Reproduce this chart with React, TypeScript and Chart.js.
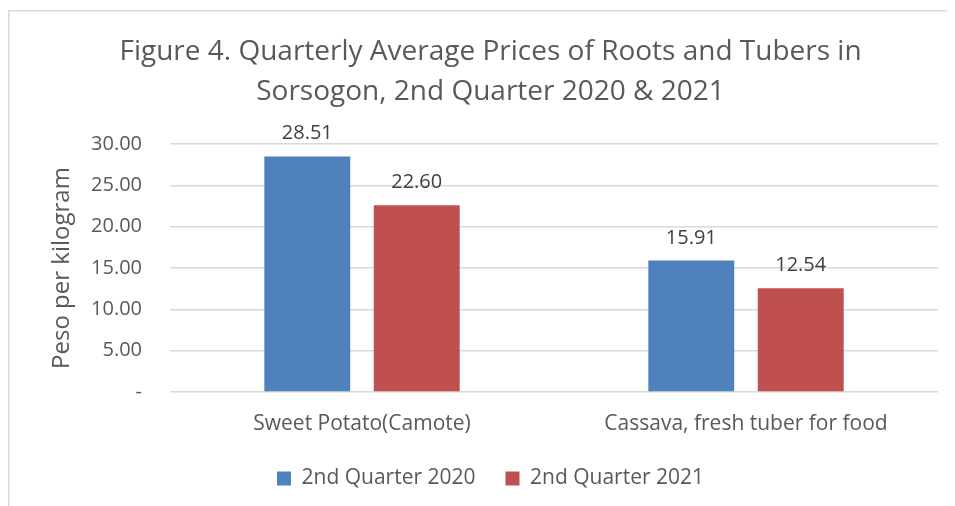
import React, { useEffect, useRef } from "react";
import { Chart, registerables } from "chart.js";

Chart.register(...registerables);

const categories = ["Sweet Potato(Camote)", "Cassava, fresh tuber for food"];
const series2020 = [28.51, 15.91];
const series2021 = [22.6, 12.54];
const seriesNames = ["2nd Quarter 2020", "2nd Quarter 2021"];
const titleLines = [
  "Figure 4. Quarterly Average Prices of Roots and Tubers in",
  "Sorsogon, 2nd Quarter 2020 & 2021",
];
const yAxisTitle = "Peso per kilogram";

const FONT = "'Open Sans', 'Noto Sans', sans-serif";
const TEXT = "#595959";

const frameAndLabels = {
  id: "frameAndLabels",
  beforeDraw(chart: any) {
    const ctx = chart.ctx;
    ctx.save();
    ctx.fillStyle = "#ffffff";
    ctx.fillRect(0, 0, chart.width, chart.height);
    ctx.strokeStyle = "#d9d9d9";
    ctx.lineWidth = 1.5;
    ctx.strokeRect(0.75, 2.75, chart.width + 20, chart.height + 20);
    ctx.restore();
  },
  afterDatasetsDraw(chart: any) {
    const ctx = chart.ctx;
    ctx.save();
    ctx.font = `20px ${FONT}`;
    ctx.fillStyle = "#404040";
    ctx.textAlign = "center";
    ctx.textBaseline = "alphabetic";
    chart.data.datasets.forEach((ds: any, i: number) => {
      const meta = chart.getDatasetMeta(i);
      meta.data.forEach((el: any, j: number) => {
        ctx.fillText(Number(ds.data[j]).toFixed(2), el.x, el.y - 17);
      });
    });
    ctx.restore();
  },
};

export default function App() {
  const ref = useRef<HTMLCanvasElement | null>(null);
  useEffect(() => {
    if (!ref.current) return;
    const chart = new Chart(ref.current, {
      type: "bar",
      data: {
        labels: categories,
        datasets: [
          { label: seriesNames[0], data: series2020, backgroundColor: "#4F81BD" },
          { label: seriesNames[1], data: series2021, backgroundColor: "#C0504D" },
        ],
      },
      options: {
        animation: false,
        responsive: true,
        maintainAspectRatio: false,
        layout: { padding: { left: 35, right: 35, top: 0, bottom: 7 } },
        datasets: { bar: { categoryPercentage: 0.57, barPercentage: 0.785 } } as any,
        scales: {
          x: {
            grid: { display: false },
            border: { display: false },
            ticks: { color: TEXT, font: { family: FONT, size: 21 }, padding: 11, maxRotation: 0 },
            afterFit(scale: any) {
              scale.height = 46;
            },
          },
          y: {
            min: 0,
            max: 30,
            grid: { color: "#d9d9d9", lineWidth: 1.5, drawTicks: false },
            border: { display: false },
            ticks: {
              stepSize: 5,
              color: TEXT,
              font: { family: FONT, size: 20 },
              padding: 28,
              callback: (v: any) => (Number(v) === 0 ? "-" : Number(v).toFixed(2)),
            },
            title: {
              display: true,
              text: yAxisTitle,
              color: TEXT,
              font: { family: FONT, size: 24 },
              padding: { top: 5, bottom: 0 },
            },
            afterFit(scale: any) {
              scale.width = 127;
            },
          },
        },
        plugins: {
          title: {
            display: true,
            text: titleLines,
            color: TEXT,
            font: { family: FONT, size: 28, weight: "normal", lineHeight: 1.43 },
            padding: { top: 24, bottom: 32 },
          },
          legend: {
            position: "bottom",
            labels: {
              boxWidth: 14,
              boxHeight: 14,
              color: TEXT,
              font: { family: FONT, size: 21 },
              padding: 30,
            },
          },
          tooltip: { enabled: false },
        },
      },
      plugins: [frameAndLabels],
    });
    return () => chart.destroy();
  }, []);
  return (
    <div style={{ width: 947, height: 498, overflow: "hidden" }}>
      <div style={{ width: 965, height: 498, position: "relative" }}>
        <canvas ref={ref} />
      </div>
    </div>
  );
}
